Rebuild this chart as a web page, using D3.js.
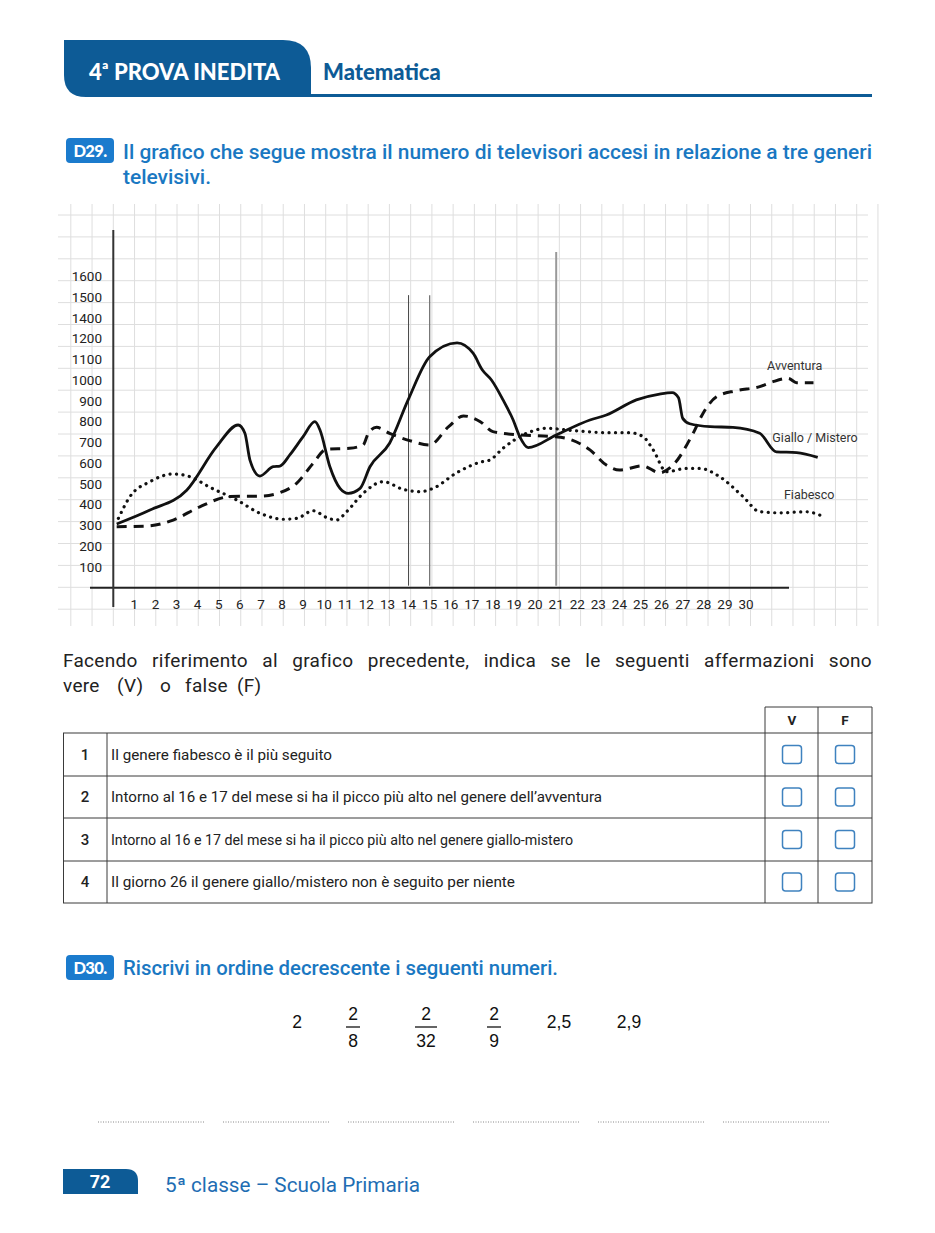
<!DOCTYPE html>
<html lang="it">
<head>
<meta charset="utf-8">
<script src="https://cdn.jsdelivr.net/npm/d3@7"></script>
<style>
  body { margin: 0; background: #fff; }
  svg { display: block; font-family: Roboto, "Noto Sans", sans-serif; }
</style>
</head>
<body>
<div id="page"></div>
<script>
// Data
const days = d3.range(1, 31);
const yTickValues = d3.range(100, 1600, 100);
const yTickLabels = ["100","200","300","400","500","600","700","800","900","1000","1100","1200","1400","1500","1600"];

// Giallo / Mistero (continuous line)
const gialloDays = [0.16,1.74,3.48,4.9,5.92,6.24,6.48,6.95,7.58,7.9,8.37,9.0,9.56,9.8,10.27,10.75,11.14,11.7,12.17,13.1,13.98,15.0,16.3,17.06,17.5,17.93,18.48,18.96,19.27,19.67,21.0,22.6,23.38,24.8,25.9,26.5,26.8,27.0,27.33,28.3,29.38,30.65,31.44,32.4,33.4];
const gialloValues = [307,374,470,680,784,744,615,538,583,586,640,728,800,760,583,479,455,479,583,696,905,1113,1180,1130,1049,1001,905,808,728,675,736,808,832,905,933,940,915,816,790,776,773,744,655,651,628];

// Avventura (dashed)
const avvDays = [0.16,1.58,2.84,4.1,5.53,7.1,7.9,8.69,9.48,10.1,11.2,11.85,12.09,12.48,13.1,14.05,15.0,15.9,16.6,17.4,18.0,19.27,20.85,21.64,22.6,23.38,24.0,25.1,25.9,26.54,27.49,27.96,28.6,29.5,30.65,31.28,32.0,32.4,33.2];
const avvValues = [294,297,326,390,439,442,458,503,600,667,672,688,744,773,744,709,688,776,828,800,752,736,728,715,664,591,567,587,554,591,744,840,920,949,969,993,1009,988,988];

// Fiabesco (dotted)
const fiabDays = [0.24,0.79,1.74,2.84,3.63,4.58,5.85,6.95,8.06,8.69,9.48,10.1,10.59,11.06,11.85,12.8,13.74,14.54,15.17,16.3,17.4,17.85,18.48,19.6,20.54,21.8,23.54,24.5,25.12,25.6,26.23,27.17,27.8,28.75,29.86,30.65,31.6,32.86,33.5];
const fiabValues = [334,439,511,548,535,484,423,359,330,334,371,339,326,366,455,511,474,463,479,555,605,615,672,744,768,757,747,747,728,664,559,575,575,535,439,366,361,366,350];

const seriesNames = ["Avventura", "Giallo / Mistero", "Fiabesco"];
const labelAnchors = [[31.0, 1070], [31.25, 725], [31.8, 450]];

// reference verticals (day, top value)
const markerDays = [14, 15, 21];
const markerTops = [1410, 1410, 1618];

const statements = [
  "Il genere fiabesco è il più seguito",
  "Intorno al 16 e 17 del mese si ha il picco più alto nel genere dell’avventura",
  "Intorno al 16 e 17 del mese si ha il picco più alto nel genere giallo-mistero",
  "Il giorno 26 il genere giallo/mistero non è seguito per niente"
];
const numbers = [
  {num: "2"}, {num: "2", den: "8"}, {num: "2", den: "32"}, {num: "2", den: "9"}, {num: "2,5"}, {num: "2,9"}
];

const darkBlue = "#0d5b96";
const brightBlue = "#1b7bcd";

const svg = d3.select("#page").append("svg")
  .attr("width", 935).attr("height", 1233);

// ---- Header
svg.append("path")
  .attr("d", "M64,40 H283 Q311,40 311,68 V97 H86 Q64,97 64,75 Z")
  .attr("fill", darkBlue);
svg.append("line").attr("x1", 308).attr("x2", 872).attr("y1", 95.5).attr("y2", 95.5)
  .attr("stroke", darkBlue).attr("stroke-width", 3);
const hdr = svg.append("text").attr("x", 89).attr("y", 80)
  .attr("fill", "#fff").style("font-weight", 900).style("font-size", "22px")
  .style("font-family", "Lato, sans-serif");
hdr.append("tspan").text("4");
hdr.append("tspan").text("ª").attr("font-size", "19px").attr("dy", -3);
hdr.append("tspan").text(" PROVA INEDITA").attr("dy", 3);
svg.append("text").attr("x", 323).attr("y", 80).text("Matematica")
  .attr("fill", darkBlue).style("font-weight", 900).style("font-size", "22px")
  .style("font-family", "Lato, sans-serif");

// ---- Badges & questions
function badge(x, y, label) {
  svg.append("rect").attr("x", x).attr("y", y).attr("width", 48).attr("height", 25)
    .attr("rx", 4).attr("fill", brightBlue);
  svg.append("text").attr("x", x + 24).attr("y", y + 18.5).attr("text-anchor", "middle")
    .text(label).attr("fill", "#fff").style("font-weight", 900).style("font-size", "16.5px")
    .style("letter-spacing", "-0.6px").style("font-family", "Lato, sans-serif");
}
const qStyle = t => t.attr("fill", "#1a78c2").style("font-size", "19.5px").style("font-weight", 500);
badge(66, 138, "D29.");
qStyle(svg.append("text").attr("x", 123).attr("y", 159)
  .text("Il grafico che segue mostra il numero di televisori accesi in relazione a tre generi")
  .attr("textLength", 749).attr("lengthAdjust", "spacingAndGlyphs"));
qStyle(svg.append("text").attr("x", 123).attr("y", 184).text("televisivi.")
  .attr("textLength", 88).attr("lengthAdjust", "spacingAndGlyphs"));

// ---- Chart
const x = d3.scaleLinear().domain([0, 30]).range([113.3, 746]);
const y = d3.scaleLinear().domain([0, 1500]).range([587.7, 276.45]);
const gridY = d3.scaleLinear().domain([0, 18]).range([215, 609.2]);

const chart = svg.append("g");
const grid = chart.append("g").attr("stroke", "#dedede").attr("stroke-width", 1);
grid.selectAll(".gv").data(d3.range(-2, 37)).join("line")
  .attr("x1", d => x(d) + d * 0.15).attr("x2", d => x(d) + d * 0.15)
  .attr("y1", 204).attr("y2", 626);
grid.selectAll(".gh").data(d3.range(0, 19)).join("line")
  .attr("x1", 58).attr("x2", 868)
  .attr("y1", d => gridY(d)).attr("y2", d => gridY(d));

// axes
chart.append("line").attr("x1", 90).attr("x2", 789).attr("y1", y(0)).attr("y2", y(0))
  .attr("stroke", "#222").attr("stroke-width", 2);
chart.append("line").attr("x1", x(0)).attr("x2", x(0)).attr("y1", 230).attr("y2", 607)
  .attr("stroke", "#333").attr("stroke-width", 2);

chart.append("g").selectAll("text").data(yTickValues).join("text")
  .attr("x", 102).attr("y", d => y(d)).attr("dy", "0.35em")
  .attr("text-anchor", "end").attr("fill", "#222").style("font-size", "13.5px")
  .text((d, i) => yTickLabels[i]);

chart.append("g").selectAll("text").data(days).join("text")
  .attr("x", d => x(d)).attr("y", 604).attr("dy", "0.35em")
  .attr("text-anchor", "middle").attr("fill", "#222").style("font-size", "13.5px")
  .text(d => d);

// marker verticals
const markerColors = ["#444", "#777", "#999"];
const markerWidths = [1, 1.3, 2];
chart.append("g").selectAll("line").data(markerDays).join("line")
  .attr("x1", d => x(d)).attr("x2", d => x(d))
  .attr("y1", (d, i) => y(markerTops[i])).attr("y2", y(0) - 2)
  .attr("stroke", (d, i) => markerColors[i]).attr("stroke-width", (d, i) => markerWidths[i]);

// series
const line = d3.line().x(d => x(d[0])).y(d => y(d[1])).curve(d3.curveMonotoneX);
const zip = (a, b) => a.map((d, i) => [d, b[i]]);

chart.append("path").datum(zip(fiabDays, fiabValues))
  .attr("d", line).attr("fill", "none").attr("stroke", "#111")
  .attr("stroke-width", 3.2).attr("stroke-linecap", "round").attr("stroke-dasharray", "0.1,6.4");
chart.append("path").datum(zip(avvDays, avvValues))
  .attr("d", line).attr("fill", "none").attr("stroke", "#111")
  .attr("stroke-width", 3).attr("stroke-dasharray", "10,7");
chart.append("path").datum(zip(gialloDays, gialloValues))
  .attr("d", line).attr("fill", "none").attr("stroke", "#111")
  .attr("stroke-width", 2.8).attr("stroke-linejoin", "round");

chart.append("g").selectAll("text").data(seriesNames).join("text")
  .attr("x", (d, i) => x(labelAnchors[i][0])).attr("y", (d, i) => y(labelAnchors[i][1]))
  .attr("dy", "0.35em").attr("fill", "#333").style("font-size", "12.5px")
  .text(d => d);

// ---- Instructions (first line justified)
const para = svg.append("g").attr("fill", "#222").style("font-size", "19px")
  .style("font-family", "Roboto, sans-serif");
const words = "Facendo riferimento al grafico precedente, indica se le seguenti affermazioni sono".split(" ");
const wEls = words.map(w => para.append("text").attr("y", 667).text(w).style("letter-spacing", "0.3px"));
const widths = wEls.map(t => t.node().getComputedTextLength());
const gap = (872 - 63 - d3.sum(widths)) / (words.length - 1);
let cx = 63;
wEls.forEach((t, i) => { t.attr("x", cx); cx += widths[i] + gap; });
const line2 = ["vere", "(V)", "o", "false", "(F)"];
const l2x = [63, 117, 160, 185, 237];
line2.forEach((w, i) => para.append("text").attr("x", l2x[i]).attr("y", 692).text(w).style("letter-spacing", "0.3px"));

// ---- Table
const tbl = svg.append("g");
const rowY = [733, 776, 818, 861, 903];
const tStroke = "#3a3a3a";
// header cells
tbl.append("path").attr("d", "M765,733 V707 H872 V733 M818,707 V733")
  .attr("fill", "none").attr("stroke", tStroke);
tbl.selectAll(".hd").data(["V", "F"]).join("text")
  .attr("x", (d, i) => i ? 845 : 792).attr("y", 720).attr("dy", "0.35em")
  .attr("text-anchor", "middle").style("font-size", "13.5px").style("font-weight", 700)
  .attr("fill", "#222").text(d => d);
tbl.append("rect").attr("x", 63.5).attr("y", 733).attr("width", 808.5).attr("height", 170)
  .attr("fill", "none").attr("stroke", tStroke);
tbl.selectAll(".rl").data(rowY.slice(1, 4)).join("line")
  .attr("x1", 63.5).attr("x2", 872).attr("y1", d => d).attr("y2", d => d).attr("stroke", tStroke);
[107, 765, 818].forEach(cxl => tbl.append("line").attr("x1", cxl).attr("x2", cxl)
  .attr("y1", 733).attr("y2", 903).attr("stroke", tStroke));
const textW = [221, 491, 462, 404];
statements.forEach((s, i) => {
  const cy = (rowY[i] + rowY[i + 1]) / 2;
  tbl.append("text").attr("x", 85).attr("y", cy).attr("dy", "0.35em").attr("text-anchor", "middle")
    .style("font-size", "15px").style("font-weight", 500).attr("fill", "#222").text(i + 1);
  tbl.append("text").attr("x", 111).attr("y", cy).attr("dy", "0.35em")
    .style("font-size", "15px").attr("fill", "#222").text(s)
    .attr("textLength", textW[i]).attr("lengthAdjust", "spacingAndGlyphs");
  [792, 845].forEach(bx => tbl.append("rect").attr("x", bx - 9.5).attr("y", cy - 9)
    .attr("width", 19).attr("height", 18).attr("rx", 3)
    .attr("fill", "none").attr("stroke", "#3f82bf").attr("stroke-width", 1.5));
});

// ---- D30
badge(66, 955, "D30.");
qStyle(svg.append("text").attr("x", 123).attr("y", 975).text("Riscrivi in ordine decrescente i seguenti numeri.")
  .attr("textLength", 435).attr("lengthAdjust", "spacingAndGlyphs"));

const numX = [297, 353, 426, 494, 559, 629];
const nums = svg.append("g").attr("fill", "#111").style("font-size", "17.5px")
  .style("font-family", "'Liberation Sans', Arial, sans-serif");
numbers.forEach((n, i) => {
  if (n.den) {
    nums.append("text").attr("x", numX[i]).attr("y", 1020).attr("text-anchor", "middle").text(n.num);
    nums.append("line").attr("x1", numX[i] - (n.den.length > 1 ? 11 : 7)).attr("x2", numX[i] + (n.den.length > 1 ? 11 : 7))
      .attr("y1", 1027).attr("y2", 1027).attr("stroke", "#111").attr("stroke-width", 1.3);
    nums.append("text").attr("x", numX[i]).attr("y", 1047).attr("text-anchor", "middle").text(n.den);
  } else {
    nums.append("text").attr("x", numX[i]).attr("y", 1028).attr("text-anchor", "middle").text(n.num);
  }
});

// answer dotted lines
svg.append("g").selectAll("line").data(d3.range(6)).join("line")
  .attr("x1", d => 98 + d * 125).attr("x2", d => 205 + d * 125)
  .attr("y1", 1122).attr("y2", 1122)
  .attr("stroke", "#888").attr("stroke-width", 1).attr("stroke-dasharray", "1,1.5");

// ---- Footer
svg.append("path").attr("d", "M63,1169 H126 Q138,1169 138,1181 V1194 H63 Z").attr("fill", darkBlue);
svg.append("text").attr("x", 100).attr("y", 1188).attr("text-anchor", "middle").text("72")
  .attr("fill", "#fff").style("font-size", "18px").style("font-weight", 700);
svg.append("text").attr("x", 165).attr("y", 1192).attr("fill", "#1e6db3")
  .style("font-size", "20px").text("5ª classe – Scuola Primaria")
  .attr("textLength", 255).attr("lengthAdjust", "spacingAndGlyphs");
</script>
</body>
</html>
